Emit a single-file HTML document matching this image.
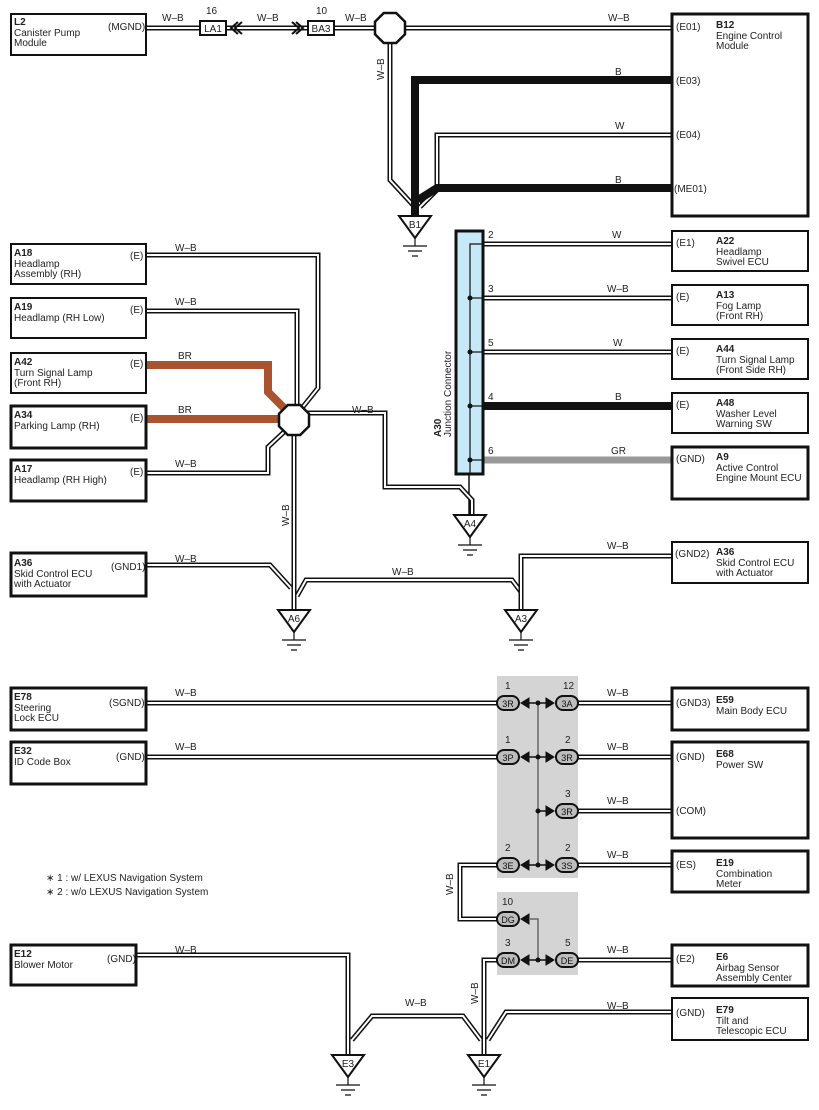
<!DOCTYPE html>
<html><head><meta charset="utf-8"><style>
html,body{margin:0;padding:0;background:#fff}
svg{display:block}
text{font-family:"Liberation Sans",sans-serif;font-size:10px;fill:#222}
.b{font-weight:bold}
</style></head><body>
<svg id="s" width="819" height="1110" viewBox="0 0 819 1110" xmlns="http://www.w3.org/2000/svg">
<g id="wires"></g>
<g id="fg" fill="none" stroke="#111">
<rect x="497" y="676" width="81" height="202" fill="#d4d4d4" stroke="none"/>
<rect x="497" y="892" width="81" height="83" fill="#d4d4d4" stroke="none"/>
<rect x="11" y="14" width="135" height="41" stroke-width="2" fill="#fff"/>
<rect x="11" y="244" width="135" height="40" stroke-width="2" fill="#fff"/>
<rect x="11" y="298" width="135" height="40" stroke-width="2" fill="#fff"/>
<rect x="11" y="353" width="135" height="40" stroke-width="2" fill="#fff"/>
<rect x="11" y="406" width="135" height="42" stroke-width="3" fill="#fff"/>
<rect x="11" y="460" width="135" height="41" stroke-width="3" fill="#fff"/>
<rect x="11" y="553" width="135" height="43" stroke-width="3" fill="#fff"/>
<rect x="11" y="688" width="135" height="42" stroke-width="3" fill="#fff"/>
<rect x="11" y="742" width="135" height="42" stroke-width="3" fill="#fff"/>
<rect x="11" y="945" width="125" height="40" stroke-width="3" fill="#fff"/>
<rect x="672" y="14" width="136" height="202" stroke-width="3" fill="#fff"/>
<rect x="672" y="231" width="136" height="40" stroke-width="2" fill="#fff"/>
<rect x="672" y="285" width="136" height="40" stroke-width="2" fill="#fff"/>
<rect x="672" y="339" width="136" height="40" stroke-width="2" fill="#fff"/>
<rect x="672" y="393" width="136" height="40" stroke-width="2" fill="#fff"/>
<rect x="672" y="447" width="136" height="52" stroke-width="3" fill="#fff"/>
<rect x="672" y="542" width="136" height="41" stroke-width="2" fill="#fff"/>
<rect x="672" y="688" width="136" height="42" stroke-width="3" fill="#fff"/>
<rect x="672" y="742" width="136" height="96" stroke-width="3" fill="#fff"/>
<rect x="672" y="851" width="136" height="41" stroke-width="3" fill="#fff"/>
<rect x="672" y="945" width="136" height="41" stroke-width="3" fill="#fff"/>
<rect x="672" y="998" width="136" height="42" stroke-width="2" fill="#fff"/>
</g>
<g id="top"></g>
<g id="txt">
<text x="14" y="25" class="b">L2</text><text x="14" y="36">Canister Pump</text><text x="14" y="46">Module</text><text x="108" y="30">(MGND)</text>
<text x="14" y="256" class="b">A18</text><text x="14" y="267">Headlamp</text><text x="14" y="277">Assembly (RH)</text><text x="130" y="259">(E)</text>
<text x="14" y="310" class="b">A19</text><text x="14" y="321">Headlamp (RH Low)</text><text x="130" y="313">(E)</text>
<text x="14" y="365" class="b">A42</text><text x="14" y="376">Turn Signal Lamp</text><text x="14" y="386">(Front RH)</text><text x="130" y="367">(E)</text>
<text x="14" y="418" class="b">A34</text><text x="14" y="429">Parking Lamp (RH)</text><text x="130" y="421">(E)</text>
<text x="14" y="472" class="b">A17</text><text x="14" y="483">Headlamp (RH High)</text><text x="130" y="475">(E)</text>
<text x="14" y="566" class="b">A36</text><text x="14" y="577">Skid Control ECU</text><text x="14" y="587">with Actuator</text><text x="111" y="570">(GND1)</text>
<text x="14" y="700" class="b">E78</text><text x="14" y="711">Steering</text><text x="14" y="721">Lock ECU</text><text x="109" y="706">(SGND)</text>
<text x="14" y="754" class="b">E32</text><text x="14" y="765">ID Code Box</text><text x="116" y="760">(GND)</text>
<text x="14" y="957" class="b">E12</text><text x="14" y="968">Blower Motor</text><text x="107" y="962">(GND)</text>
<text x="46" y="881">∗ 1 : w/ LEXUS Navigation System</text>
<text x="46" y="895">∗ 2 : w/o LEXUS Navigation System</text>

<text x="676" y="30">(E01)</text><text x="716" y="28" class="b">B12</text><text x="716" y="39">Engine Control</text><text x="716" y="49">Module</text>
<text x="676" y="84">(E03)</text><text x="676" y="138">(E04)</text><text x="674" y="192">(ME01)</text>
<text x="676" y="246">(E1)</text><text x="716" y="244" class="b">A22</text><text x="716" y="255">Headlamp</text><text x="716" y="265">Swivel ECU</text>
<text x="676" y="300">(E)</text><text x="716" y="298" class="b">A13</text><text x="716" y="309">Fog Lamp</text><text x="716" y="319">(Front RH)</text>
<text x="676" y="354">(E)</text><text x="716" y="352" class="b">A44</text><text x="716" y="363">Turn Signal Lamp</text><text x="716" y="373">(Front Side RH)</text>
<text x="676" y="408">(E)</text><text x="716" y="406" class="b">A48</text><text x="716" y="417">Washer Level</text><text x="716" y="427">Warning SW</text>
<text x="676" y="462">(GND)</text><text x="716" y="460" class="b">A9</text><text x="716" y="471">Active Control</text><text x="716" y="481">Engine Mount ECU</text>
<text x="675" y="557">(GND2)</text><text x="716" y="555" class="b">A36</text><text x="716" y="566">Skid Control ECU</text><text x="716" y="576">with Actuator</text>
<text x="676" y="706">(GND3)</text><text x="716" y="703" class="b">E59</text><text x="716" y="714">Main Body ECU</text>
<text x="676" y="760">(GND)</text><text x="716" y="757" class="b">E68</text><text x="716" y="768">Power SW</text>
<text x="676" y="814">(COM)</text>
<text x="676" y="868">(ES)</text><text x="716" y="866" class="b">E19</text><text x="716" y="877">Combination</text><text x="716" y="887">Meter</text>
<text x="676" y="962">(E2)</text><text x="716" y="960" class="b">E6</text><text x="716" y="971">Airbag Sensor</text><text x="716" y="981">Assembly Center</text>
<text x="676" y="1016">(GND)</text><text x="716" y="1013" class="b">E79</text><text x="716" y="1024">Tilt and</text><text x="716" y="1034">Telescopic ECU</text>

<text x="162" y="21">W–B</text><text x="257" y="21">W–B</text><text x="345" y="21">W–B</text><text x="608" y="21">W–B</text>
<text x="206" y="14">16</text><text x="316" y="14">10</text>
<text x="615" y="75">B</text><text x="615" y="129">W</text><text x="615" y="183">B</text>
<text x="612" y="238">W</text><text x="607" y="292">W–B</text><text x="613" y="346">W</text><text x="615" y="400">B</text><text x="611" y="454">GR</text>
<text x="488" y="238">2</text><text x="488" y="292">3</text><text x="488" y="346">5</text><text x="488" y="400">4</text><text x="488" y="454">6</text>
<text x="175" y="251">W–B</text><text x="175" y="305">W–B</text><text x="178" y="359">BR</text><text x="178" y="413">BR</text><text x="175" y="467">W–B</text><text x="352" y="413">W–B</text>
<text x="175" y="562">W–B</text><text x="392" y="575">W–B</text><text x="607" y="549">W–B</text>
<text x="175" y="696">W–B</text><text x="175" y="750">W–B</text><text x="175" y="953">W–B</text><text x="405" y="1006">W–B</text>
<text x="607" y="696">W–B</text><text x="607" y="750">W–B</text><text x="607" y="804">W–B</text><text x="607" y="858">W–B</text><text x="607" y="953">W–B</text><text x="607" y="1009">W–B</text>
<text transform="translate(384,80) rotate(-90)">W–B</text>
<text transform="translate(289,526) rotate(-90)">W–B</text>
<text transform="translate(453,895) rotate(-90)">W–B</text>
<text transform="translate(478,1004) rotate(-90)">W–B</text>
<text transform="translate(441,437) rotate(-90)" class="b">A30</text>
<text transform="translate(451,437) rotate(-90)">Junction Connector</text>
<text x="505" y="689">1</text><text x="563" y="689">12</text>
<text x="505" y="743">1</text><text x="565" y="743">2</text>
<text x="565" y="797">3</text>
<text x="505" y="851">2</text><text x="565" y="851">2</text>
<text x="502" y="905">10</text><text x="505" y="946">3</text><text x="565" y="946">5</text>
</g>
<script>
var NS="http://www.w3.org/2000/svg";
function el(p,t,a){var e=document.createElementNS(NS,t);for(var k in a)e.setAttribute(k,a[k]);document.getElementById(p).appendChild(e);return e;}
function w(d){el("wires","path",{d:d,fill:"none",stroke:"#111","stroke-width":5,"stroke-linejoin":"miter"});el("wires","path",{d:d,fill:"none",stroke:"#fff","stroke-width":2});}
function c(d,col,wd){el("wires","path",{d:d,fill:"none",stroke:col,"stroke-width":wd});}
w("M146 28H200");w("M226 28H308");w("M334 28H672");
w("M390 40V180L413 205");
c("M672 80H415V216","#111",8);
w("M672 135H437V190L420 207");
c("M672 188H437L418 200","#111",8);
w("M672 244H470V472");w("M672 298H470");w("M672 352H470");
c("M672 406H470","#111",8);c("M672 460H470","#999",7);
c("M469 474V515","#111",1.5);
w("M146 255H318V388L302 408");
w("M146 311H297V406");
c("M146 365H268V392L286 410","#a9532f",8);
c("M146 419H282","#a9532f",8);
w("M146 473H268V447L284 432");
w("M306 413H385V487H460L472 500V515");
w("M294 432V610");
w("M146 565H270L291 588");
w("M297 596L306 580H512L521 592");
w("M672 556H521V610");
w("M146 703H500");w("M146 757H500");
w("M575 703H672");w("M575 757H672");w("M575 811H672");w("M575 865H672");w("M575 960H672");
w("M500 865H460V919H500");
w("M500 960H484V1055");
w("M136 955H348V1055");
w("M352 1040L372 1016H463L481 1040");
w("M488 1040L506 1012H672");
function oct(cx,cy,r){var a=r*0.414,pts=[[cx-a,cy-r],[cx+a,cy-r],[cx+r,cy-a],[cx+r,cy+a],[cx+a,cy+r],[cx-a,cy+r],[cx-r,cy+a],[cx-r,cy-a]].map(function(p){return p.join(",")}).join(" ");el("top","polygon",{points:pts,fill:"#fff",stroke:"#111","stroke-width":2.5});}
oct(390,28,15);oct(294,420,15);
el("top","rect",{x:456,y:231,width:27,height:243,fill:"#c6e8f7",stroke:"#111","stroke-width":3});
el("top","path",{d:"M483 244H470V474",fill:"none",stroke:"#111","stroke-width":1.2});
[298,352,406,460].forEach(function(y){el("top","line",{x1:470,y1:y,x2:483,y2:y,stroke:"#111","stroke-width":1.2});el("top","circle",{cx:470,cy:y,r:2.5,fill:"#111"});});
function gnd(cx,y,lab){el("top","polygon",{points:(cx-16)+","+y+" "+(cx+16)+","+y+" "+cx+","+(y+22),fill:"#fff",stroke:"#111","stroke-width":2});
var t=el("top","text",{x:cx,y:y+12,"text-anchor":"middle"});t.textContent=lab;
el("top","path",{d:"M"+cx+" "+(y+22)+"V"+(y+30)+"M"+(cx-12)+" "+(y+30)+"H"+(cx+12)+"M"+(cx-7)+" "+(y+35)+"H"+(cx+7)+"M"+(cx-3)+" "+(y+40)+"H"+(cx+3),stroke:"#111","stroke-width":1.2,fill:"none"});}
gnd(415,216,"B1");gnd(470,515,"A4");gnd(294,610,"A6");gnd(521,610,"A3");gnd(348,1055,"E3");gnd(484,1055,"E1");
function box(x,y,wd,lab){el("top","rect",{x:x,y:y-7,width:wd,height:14,fill:"#fff",stroke:"#111","stroke-width":2});var t=el("top","text",{x:x+wd/2,y:y+4,"text-anchor":"middle"});t.textContent=lab;}
box(200,28,26,"LA1");box(308,28,26,"BA3");
el("top","path",{d:"M238 22L231 28L238 34M242 22L235 28L242 34M296 22L303 28L296 34M292 22L299 28L292 34",fill:"none",stroke:"#111","stroke-width":2});
function pill(x,y,lab,left){el("top","rect",{x:x-11,y:y-7,width:22,height:14,rx:7,fill:"#bdbdbd",stroke:"#111","stroke-width":2});var t=el("top","text",{x:x,y:y+4,"text-anchor":"middle",style:"font-size:9px;fill:#111"});t.textContent=lab;
var d=left?"M"+(x+21)+" "+(y-5)+"L"+(x+13)+" "+y+"L"+(x+21)+" "+(y+5)+"Z":"M"+(x-21)+" "+(y-5)+"L"+(x-13)+" "+y+"L"+(x-21)+" "+(y+5)+"Z";el("top","path",{d:d,fill:"#111",stroke:"#111","stroke-width":1});}
el("top","line",{x1:538,y1:703,x2:538,y2:865,stroke:"#666","stroke-width":1.5});
el("top","path",{d:"M530 919H538V960",fill:"none",stroke:"#666","stroke-width":1.5});
[[703,1,1],[757,1,1],[811,0,1],[865,1,1],[960,1,1]].forEach(function(r){var y=r[0];el("top","line",{x1:r[1]?528:538,y1:y,x2:548,y2:y,stroke:"#111","stroke-width":1.5});el("top","circle",{cx:538,cy:y,r:2.5,fill:"#111"});});
pill(508,703,"3R",1);pill(567,703,"3A",0);pill(508,757,"3P",1);pill(567,757,"3R",0);pill(567,811,"3R",0);
pill(508,865,"3E",1);pill(567,865,"3S",0);pill(508,919,"DG",1);pill(508,960,"DM",1);pill(567,960,"DE",0);
</script>
</svg>
</body></html>
